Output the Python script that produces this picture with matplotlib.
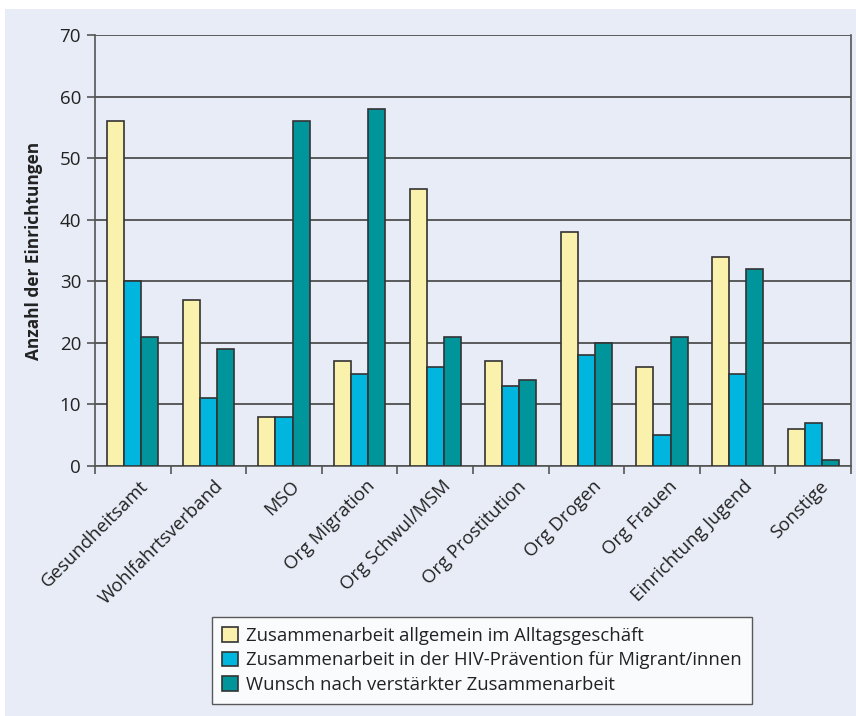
import numpy as np
import matplotlib
matplotlib.use("Agg")
import matplotlib.pyplot as plt
from matplotlib.patches import Rectangle

plt.rcParams['font.family'] = ['Open Sans', 'DejaVu Sans']

categories = ["Gesundheitsamt", "Wohlfahrtsverband", "MSO", "Org Migration",
              "Org Schwul/MSM", "Org Prostitution", "Org Drogen", "Org Frauen",
              "Einrichtung Jugend", "Sonstige"]
allgemein = [56, 27, 8, 17, 45, 17, 38, 16, 34, 6]
hiv_praevention = [30, 11, 8, 15, 16, 13, 18, 5, 15, 7]
wunsch = [21, 19, 56, 58, 21, 14, 20, 21, 32, 1]
series_labels = ["Zusammenarbeit allgemein im Alltagsgeschäft",
                 "Zusammenarbeit in der HIV-Prävention für Migrant/innen",
                 "Wunsch nach verstärkter Zusammenarbeit"]
colors = ["#f9f1ac", "#00b5de", "#00959b"]

bg = "#e8ecf6"
edge = "#333333"

fig = plt.figure(figsize=(8.56, 7.16), dpi=100)
fig.patch.set_facecolor("white")
fig.patches.append(Rectangle((5 / 856, 0), 1, 1 - 9 / 716, transform=fig.transFigure,
                             facecolor=bg, edgecolor="none", zorder=-10))

ax = fig.add_axes([95 / 856, 1 - 466 / 716, (851 - 95) / 856, (466 - 35) / 716])
ax.set_facecolor(bg)

x = np.arange(len(categories))
w = 0.225
for i, (vals, c, lab) in enumerate(zip([allgemein, hiv_praevention, wunsch], colors, series_labels)):
    ax.bar(x + (i - 1) * w, vals, width=w, color=c, edgecolor=edge, linewidth=1.2,
           label=lab, zorder=3)

ax.set_xlim(-0.5, len(categories) - 0.5)
ax.set_ylim(0, 70)
ax.set_yticks(range(0, 71, 10))
ax.yaxis.grid(True, color=edge, linewidth=1.1, zorder=0)
ax.set_axisbelow(True)

# separators between categories as major ticks, names on minor ticks
ax.set_xticks(np.arange(len(categories) + 1) - 0.5, minor=False)
ax.set_xticklabels([])
ax.set_xticks(x + 0.08, minor=True)
ax.set_xticklabels(categories, minor=True, rotation=45, ha="right",
                   rotation_mode="anchor", fontsize=13.3, color="#222222")
ax.tick_params(axis="x", which="minor", length=0, pad=8)
ax.tick_params(axis="x", which="major", length=6, width=1.2, color="#555555")
ax.tick_params(axis="y", length=6, width=1.2, color="#555555", labelsize=13.5,
               labelcolor="#222222", pad=4)

for s in ["left", "right", "bottom"]:
    ax.spines[s].set_color("#555555")
    ax.spines[s].set_linewidth(1.2)
ax.spines["top"].set_visible(False)

ax.set_ylabel("Anzahl der Einrichtungen", fontsize=12.4, fontweight="bold",
              color="#222222", labelpad=12)

leg = fig.legend(loc="lower left", bbox_to_anchor=(212 / 856, 12 / 716),
                 fontsize=13.3, frameon=True, fancybox=False, handlelength=0.85,
                 handleheight=0.85, handletextpad=0.45, labelspacing=0.35,
                 borderpad=0.55, borderaxespad=0)
leg.get_frame().set_edgecolor(edge)
leg.get_frame().set_linewidth(1.0)
leg.get_frame().set_facecolor("white")
for t in leg.get_texts():
    t.set_color("#222222")

fig.savefig("out.png", dpi=100, facecolor=fig.get_facecolor())
